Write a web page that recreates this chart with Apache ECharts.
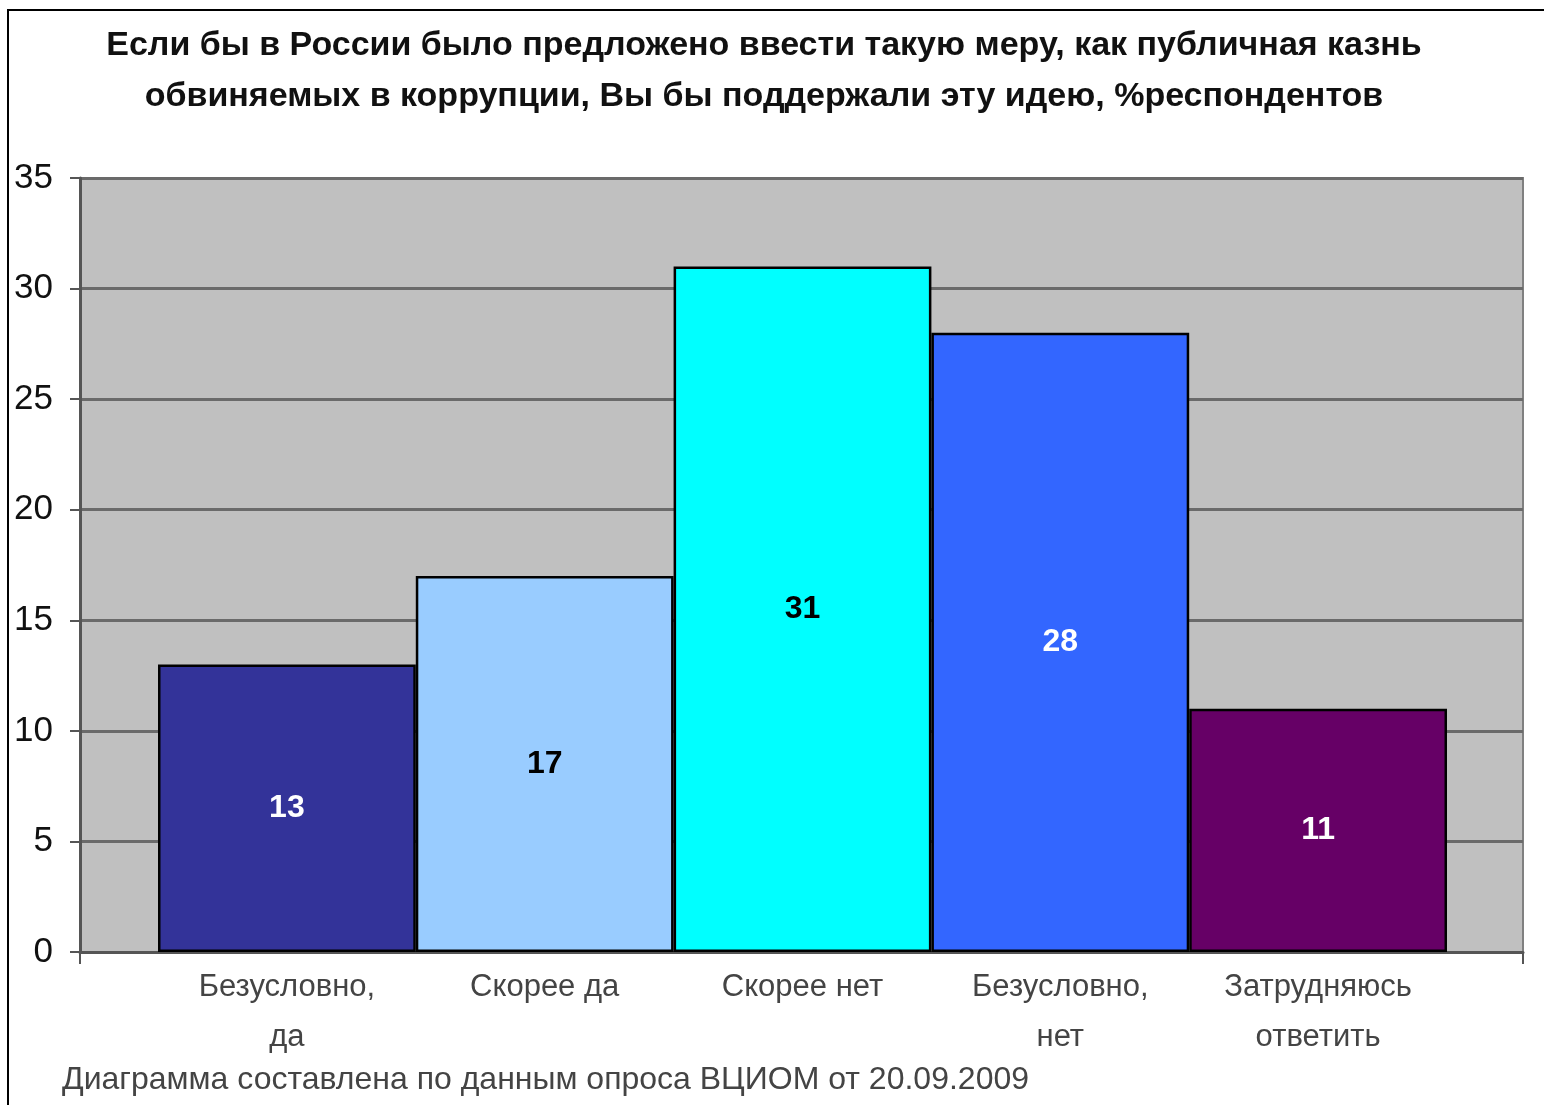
<!DOCTYPE html>
<html><head><meta charset="utf-8">
<script src="https://cdn.jsdelivr.net/npm/echarts@6/dist/echarts.min.js"></script>
<style>html,body{margin:0;padding:0;background:#fff}#c{width:1544px;height:1105px}</style>
</head><body><div id="c"></div>
<script>
const categories = ['Безусловно,\nда', 'Скорее да', 'Скорее нет', 'Безусловно,\nнет', 'Затрудняюсь\nответить'];
const values = [13, 17, 31, 28, 11];
const barColors = ['#333399', '#99ccff', '#00ffff', '#3366ff', '#660066'];
const labelColors = ['#ffffff', '#000000', '#000000', '#ffffff', '#ffffff'];
const titleText = 'Если бы в России было предложено ввести такую меру, как публичная казнь\nобвиняемых в коррупции, Вы бы поддержали эту идею, %респондентов';
const footerText = 'Диаграмма составлена по данным опроса ВЦИОМ от 20.09.2009';

const chart = echarts.init(document.getElementById('c'));
const font = "'Liberation Sans', Arial, sans-serif";
chart.setOption({
  animation: false,
  title: {
    text: titleText, left: 759, top: 15, textAlign: 'center',
    textStyle: { fontFamily: font, fontWeight: 'bold', fontSize: 34, lineHeight: 51, color: '#111' }
  },
  graphic: [
    { type: 'rect', shape: { x: 8, y: 10, width: 1540, height: 1100 }, style: { fill: 'none', stroke: '#000', lineWidth: 2 }, silent: true },
    { type: 'text', left: 62, top: 1064, style: { text: footerText, font: "32px " + font, fill: '#444' } }
  ],
  grid: [
    { left: 80, right: 21, top: 178, bottom: 153, show: true, backgroundColor: '#c0c0c0', borderColor: '#808080', borderWidth: 2 },
    { left: 158, width: 1289, top: 178, bottom: 153 }
  ],
  xAxis: [
    { gridIndex: 0, type: 'category', data: [''], boundaryGap: true,
      axisLine: { show: true, lineStyle: { color: '#555', width: 3 } },
      axisTick: { show: true, length: 12, lineStyle: { color: '#555', width: 2 } },
      axisLabel: { show: false } },
    { gridIndex: 1, type: 'category', data: categories,
      axisLine: { show: false }, axisTick: { show: false },
      axisLabel: { margin: 10, fontFamily: font, fontSize: 31, lineHeight: 50, color: '#444' } }
  ],
  yAxis: [
    { gridIndex: 0, type: 'value', min: 0, max: 35, interval: 5,
      axisLine: { show: true, lineStyle: { color: '#555', width: 3 } },
      axisTick: { show: true, length: 10, lineStyle: { color: '#555', width: 2 } },
      splitLine: { show: true, lineStyle: { color: '#6a6a6a', width: 3 } },
      axisLabel: { margin: 27, fontFamily: font, fontSize: 35, color: '#111' } },
    { gridIndex: 1, type: 'value', min: 0, max: 35, interval: 5, show: false, splitLine: { show: false } }
  ],
  series: [{
    type: 'bar', xAxisIndex: 1, yAxisIndex: 1, barCategoryGap: 0,
    data: values.map((v, i) => ({ value: v, itemStyle: { color: barColors[i] },
      label: { color: labelColors[i] } })),
    itemStyle: { borderColor: '#000', borderWidth: 2.5 },
    label: { show: true, position: 'inside', fontFamily: font, fontWeight: 'bold', fontSize: 32 }
  }]
});
</script></body></html>
